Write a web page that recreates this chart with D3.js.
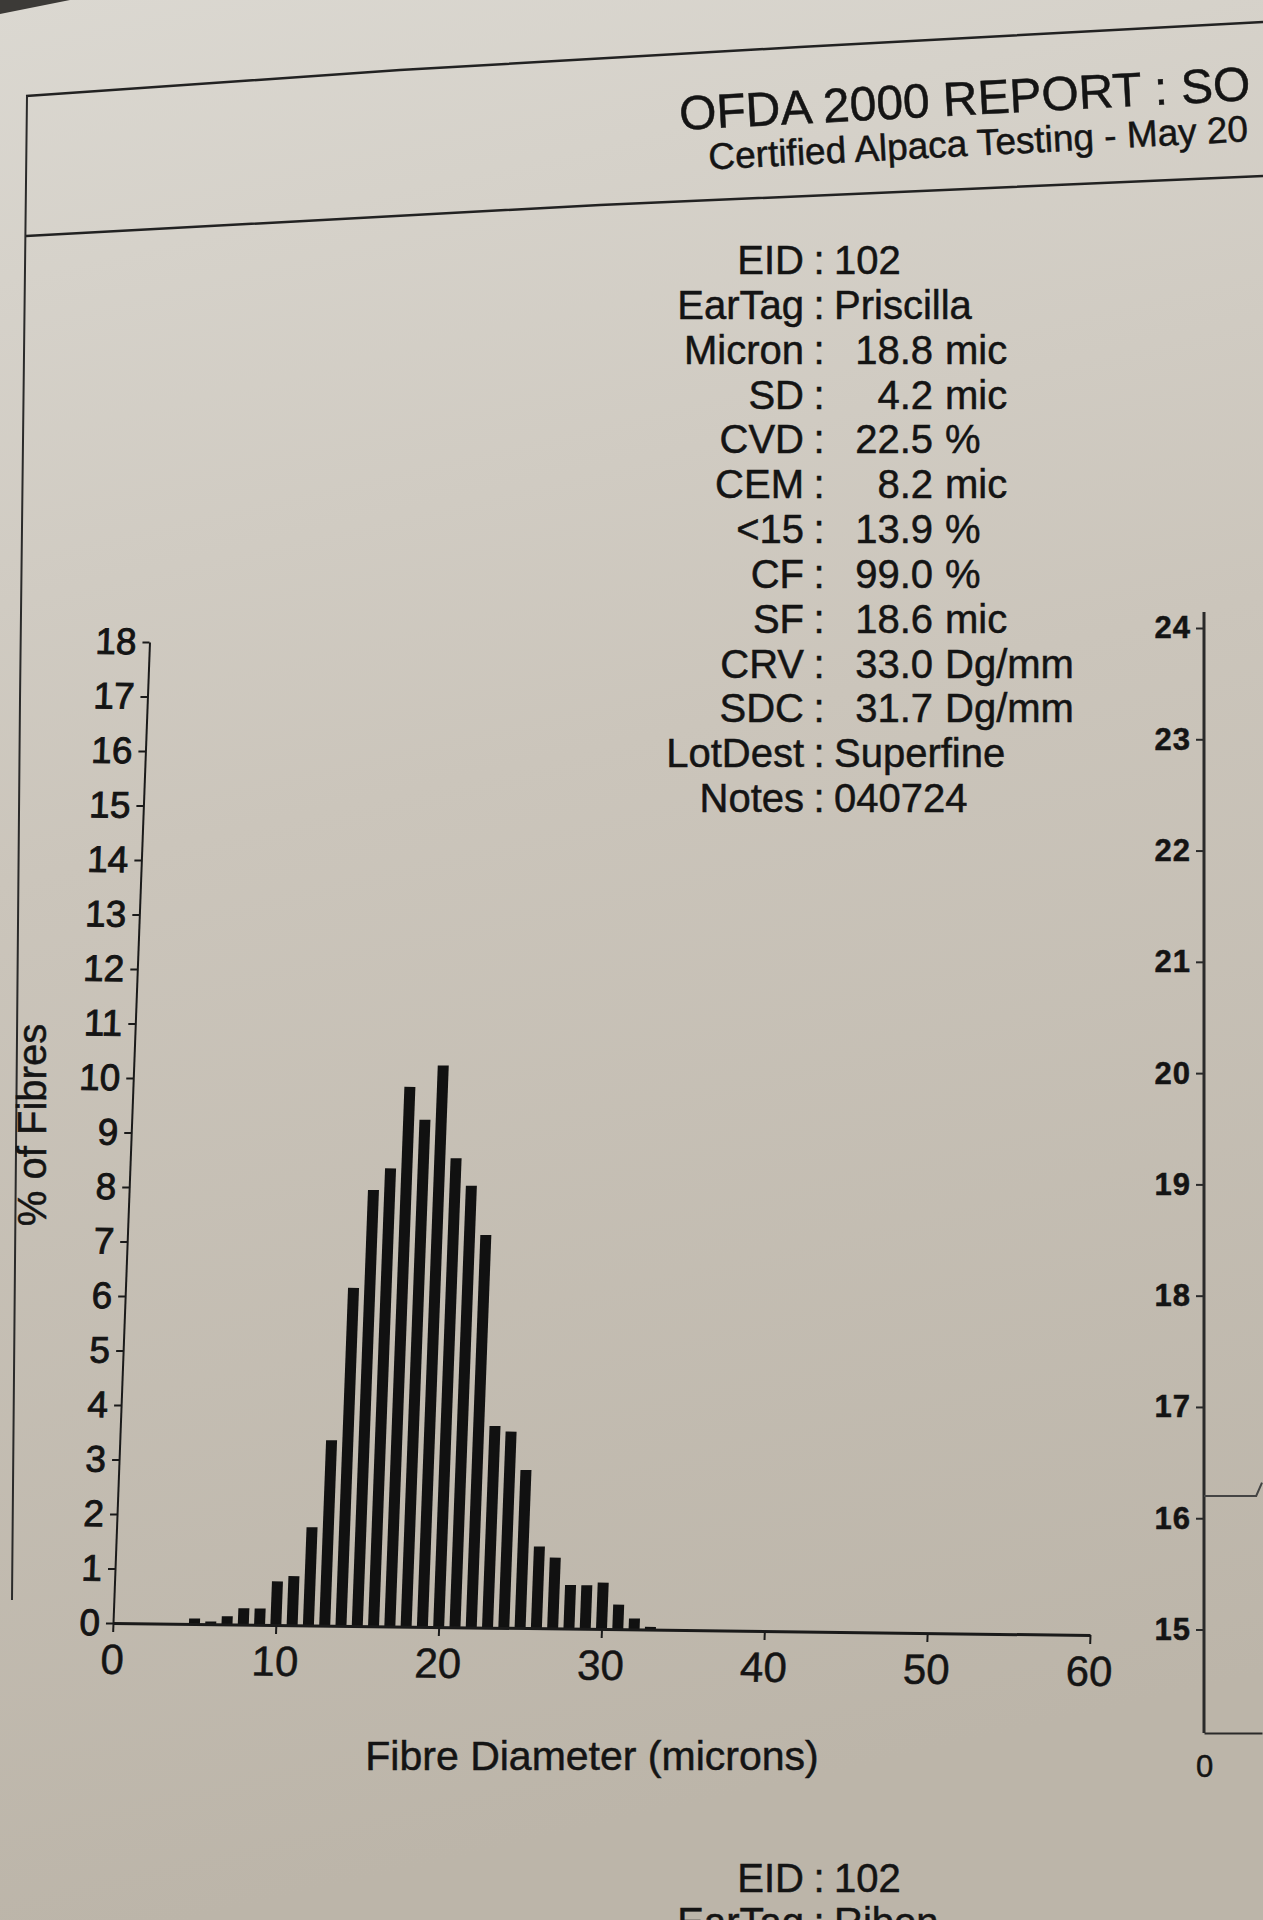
<!DOCTYPE html>
<html lang="en">
<head>
<meta charset="UTF-8">
<title>OFDA 2000 Report</title>
<script src="https://d3js.org/d3.v7.min.js"></script>
<style>
  body { margin: 0; background: #c9c3b9; overflow: hidden; }
  text { font-family: "Liberation Sans", Arial, Helvetica, sans-serif; fill: #141414;
         stroke: #141414; stroke-width: 0.5px; }
</style>
</head>
<body>
<div id="page"></div>
<script>
// histogram: fibre diameter (microns) -> % of fibres
var diameters = [5, 6, 7, 8, 9, 10, 11, 12, 13, 14, 15, 16, 17, 18, 19,
                 20, 21, 22, 23, 24, 25, 26, 27, 28, 29, 30, 31, 32, 33];
var percents  = [0.1, 0.05, 0.15, 0.3, 0.3, 0.8, 0.9, 1.8, 3.4, 6.2, 8.0, 8.4, 9.9, 9.3, 10.3,
                 8.6, 8.1, 7.2, 3.7, 3.6, 2.9, 1.5, 1.3, 0.8, 0.8, 0.85, 0.45, 0.2, 0.05];

var xTicks = [0, 10, 20, 30, 40, 50, 60];
var yTicks = d3.range(0, 19);

// summary block
var statLabels  = ["EID", "EarTag", "Micron", "SD", "CVD", "CEM", "<15", "CF", "SF", "CRV", "SDC", "LotDest", "Notes"];
var statNumbers = ["102", "Priscilla", "18.8", "4.2", "22.5", "8.2", "13.9", "99.0", "18.6", "33.0", "31.7", "Superfine", "040724"];
var statUnits   = ["", "", "mic", "mic", "%", "mic", "%", "%", "mic", "Dg/mm", "Dg/mm", "", ""];

// next chart on the right, only its left edge is on the page
var profileTicks = [15, 16, 17, 18, 19, 20, 21, 22, 23, 24];
var profileX = [0, 0.9, 1.0];
var profileY = [16.2, 16.2, 16.32];

// the record of the next report, cut at the bottom
var nextLabels = ["EID", "EarTag"];
var nextValues = ["102", "Ribon"];

var width = 1263, height = 1920;

var svg = d3.select("#page").append("svg")
    .attr("width", width)
    .attr("height", height);

// paper
var grad = svg.append("defs").append("linearGradient")
    .attr("id", "paper").attr("x1", 0).attr("y1", 0).attr("x2", 0.15).attr("y2", 1);
grad.append("stop").attr("offset", "0").attr("stop-color", "#dbd8d1");
grad.append("stop").attr("offset", "0.45").attr("stop-color", "#cbc5bb");
grad.append("stop").attr("offset", "1").attr("stop-color", "#bcb5a9");
svg.append("rect").attr("width", width).attr("height", height).attr("fill", "url(#paper)");
svg.append("path").attr("d", "M0,0 L70,0 L0,14 Z").attr("fill", "#3c3a37");

// header box lines
var frame = d3.line();
svg.append("path").attr("d", frame([[26, 96], [400, 70], [800, 47], [1263, 22]]))
    .attr("fill", "none").attr("stroke", "#222").attr("stroke-width", 2.5);
svg.append("path").attr("d", frame([[26, 236], [600, 205], [1263, 176]]))
    .attr("fill", "none").attr("stroke", "#222").attr("stroke-width", 2.5);
svg.append("path").attr("d", frame([[27, 96], [20, 700], [12, 1600]]))
    .attr("fill", "none").attr("stroke", "#2a2a2a").attr("stroke-width", 2);

var header = svg.append("g").attr("transform", "rotate(-3 680 130)");
header.append("text").attr("x", 680).attr("y", 130)
    .attr("font-size", 48).text("OFDA 2000 REPORT : SO");
header.append("text").attr("x", 707).attr("y", 171)
    .attr("font-size", 37).text("Certified Alpaca Testing - May 20");

// summary rows
var rowY = d3.scaleLinear().domain([0, statLabels.length - 1]).range([274, 812]);
var stats = svg.append("g").attr("font-size", 40);
statLabels.forEach(function(lab, i) {
    var yy = rowY(i);
    stats.append("text").attr("x", 804).attr("y", yy).attr("text-anchor", "end").text(lab);
    stats.append("text").attr("x", 819).attr("y", yy).attr("text-anchor", "middle").text(":");
    if (statUnits[i]) {
        stats.append("text").attr("x", 933).attr("y", yy).attr("text-anchor", "end").text(statNumbers[i]);
        stats.append("text").attr("x", 945).attr("y", yy).text(statUnits[i]);
    } else {
        stats.append("text").attr("x", 834).attr("y", yy).text(statNumbers[i]);
    }
});

// histogram, drawn in its own frame then slanted like the photographed page
var W = 977, H = 981;
var x = d3.scaleLinear().domain([0, 60]).range([0, W]);
var y = d3.scaleLinear().domain([0, 18]).range([H, 0]);

var chart = svg.append("g")
    .attr("transform", "matrix(1,0.0123,-0.0372,1,149.5,642)");

chart.selectAll(".bar")
    .data(diameters)
    .enter().append("rect")
    .attr("class", "bar")
    .attr("x", function(d) { return x(d) - 5.5; })
    .attr("width", 11)
    .attr("y", function(d, i) { return y(percents[i]); })
    .attr("height", function(d, i) { return H - y(percents[i]); })
    .attr("fill", "#111");

var yAxis = chart.append("g")
    .call(d3.axisLeft(y).tickValues(yTicks).tickSize(7).tickSizeOuter(0).tickPadding(6));
yAxis.selectAll("text").attr("font-size", 37).style("fill", "#141414").style("stroke-width", "0.9px");

var xAxis = chart.append("g")
    .attr("transform", "translate(0," + H + ")")
    .call(d3.axisBottom(x).tickValues(xTicks).tickSize(9).tickSizeOuter(0).tickPadding(12));
xAxis.selectAll("text").attr("font-size", 42).style("fill", "#141414");
xAxis.select(".domain").attr("stroke-width", 3);

chart.selectAll(".domain, .tick line").attr("stroke", "#1a1a1a");
yAxis.select(".domain").attr("stroke-width", 2);
chart.selectAll(".tick line").attr("stroke-width", 2);

svg.append("text")
    .attr("transform", "translate(46,1125) rotate(-90)")
    .attr("text-anchor", "middle").attr("font-size", 40)
    .text("% of Fibres");

svg.append("text")
    .attr("x", 592).attr("y", 1770)
    .attr("text-anchor", "middle").attr("font-size", 41)
    .text("Fibre Diameter (microns)");

// right-hand profile chart (edge only)
var px = d3.scaleLinear().domain([0, 1]).range([1204, 1262]);
var py = d3.scaleLinear().domain([14.07, 24]).range([1733, 628]);

var prof = svg.append("g");
prof.append("line")
    .attr("x1", 1204).attr("x2", 1204).attr("y1", 612).attr("y2", 1733)
    .attr("stroke", "#2a2a2a").attr("stroke-width", 3);
var pAxis = prof.append("g")
    .attr("transform", "translate(1204,0)")
    .call(d3.axisLeft(py).tickValues(profileTicks).tickSize(8).tickSizeOuter(0).tickPadding(5));
pAxis.select(".domain").remove();
pAxis.selectAll(".tick line").attr("stroke", "#2a2a2a").attr("stroke-width", 2);
pAxis.selectAll("text").attr("font-size", 31).attr("font-weight", "bold")
    .style("fill", "#141414").style("letter-spacing", "1px");

var pxAxis = prof.append("g")
    .attr("transform", "translate(0,1733)")
    .call(d3.axisBottom(px).tickValues([0]).tickFormat(d3.format("d"))
        .tickSize(0).tickSizeOuter(0).tickPadding(22));
pxAxis.select(".domain").attr("stroke", "#2a2a2a").attr("stroke-width", 2);
pxAxis.selectAll("text").attr("font-size", 31).style("fill", "#141414");

prof.append("path")
    .datum(profileX)
    .attr("d", d3.line()
        .x(function(d) { return px(d); })
        .y(function(d, i) { return py(profileY[i]); }))
    .attr("fill", "none").attr("stroke", "#444").attr("stroke-width", 2);

// next record, cut off by the photo
var next = svg.append("g").attr("font-size", 40);
nextLabels.forEach(function(lab, i) {
    var yy = 1892 + i * 44;
    next.append("text").attr("x", 804).attr("y", yy).attr("text-anchor", "end").text(lab);
    next.append("text").attr("x", 819).attr("y", yy).attr("text-anchor", "middle").text(":");
    next.append("text").attr("x", 834).attr("y", yy).text(nextValues[i]);
});
</script>
</body>
</html>
